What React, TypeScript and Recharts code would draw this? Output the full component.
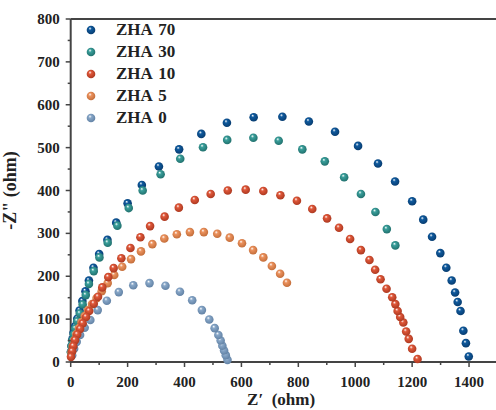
import { Legend, ReferenceLine, Scatter, ScatterChart, XAxis, YAxis } from "recharts"

// Nyquist data: Z' (real part) and -Z'' (imaginary part), in ohm
const zha70Re = [1399, 1389, 1380, 1370, 1360, 1351, 1339, 1320, 1299, 1270, 1239, 1200, 1140, 1080, 1010, 929, 837, 744, 643, 549, 459, 381, 310, 250, 200, 160, 129, 100, 80, 64, 52, 41, 31, 23, 16, 10, 6, 3, 1]
const zha70Im = [13, 44, 73, 119, 140, 162, 190, 220, 254, 292, 332, 375, 421, 463, 504, 537, 561, 572, 571, 558, 532, 496, 456, 413, 370, 325, 285, 252, 220, 190, 165, 142, 120, 101, 84, 68, 53, 38, 24]

const zha30Re = [1141, 1111, 1071, 1020, 961, 893, 814, 731, 642, 550, 465, 385, 316, 253, 204, 164, 130, 101, 81, 64, 53, 42, 32, 23, 16, 11, 6, 3, 1]
const zha30Im = [272, 310, 350, 392, 431, 468, 496, 516, 523, 518, 501, 474, 438, 400, 359, 318, 278, 244, 212, 182, 156, 134, 113, 95, 78, 64, 50, 37, 23]

const zha10Re = [1219, 1200, 1188, 1179, 1169, 1158, 1149, 1141, 1130, 1110, 1089, 1070, 1050, 1020, 982, 943, 901, 849, 795, 737, 677, 615, 552, 492, 436, 380, 330, 279, 245, 210, 178, 151, 132, 111, 96, 81, 65, 54, 42, 33, 23, 15, 9, 5, 1]
const zha10Im = [7, 31, 54, 71, 92, 105, 119, 135, 151, 171, 193, 215, 238, 261, 287, 313, 335, 357, 376, 389, 399, 402, 400, 392, 378, 360, 339, 317, 291, 266, 242, 219, 198, 174, 152, 136, 119, 105, 90, 77, 64, 51, 37, 25, 12]

const zha5Re = [760, 736, 707, 677, 641, 602, 559, 515, 468, 419, 373, 329, 287, 247, 212, 181, 153, 130, 109, 91, 75, 61, 49, 38, 29, 20, 13, 7, 3]
const zha5Im = [185, 206, 224, 244, 261, 277, 290, 299, 303, 303, 298, 288, 275, 258, 240, 222, 203, 184, 165, 149, 135, 121, 107, 93, 79, 65, 51, 37, 23]

const zha0Re = [551, 545, 539, 533, 527, 519, 506, 487, 461, 427, 384, 333, 277, 220, 169, 127, 95, 69, 49, 33, 21, 12, 5]
const zha0Im = [5, 16, 27, 38, 50, 63, 79, 99, 121, 144, 164, 178, 184, 179, 163, 143, 121, 98, 80, 63, 47, 31, 16]

const xTicks = [0, 100, 200, 300, 400, 500, 600, 700, 800, 900, 1000, 1100, 1200, 1300, 1400, 1500]
const yTicks = [0, 50, 100, 150, 200, 250, 300, 350, 400, 450, 500, 550, 600, 650, 700, 750, 800]

const AXIS = "#444"
const FONT = '"Liberation Serif", "Times New Roman", serif'

const toPoints = (re: number[], im: number[]) => re.map((x, i) => ({ x, y: im[i] }))

// legend order top→bottom; draw order is handled separately below
const series = [
  { key: "zha70", name: "ZHA 70", color: "#0f5a9e", dark: "#073a6c", data: toPoints(zha70Re, zha70Im) },
  { key: "zha30", name: "ZHA 30", color: "#3a9f9b", dark: "#1f6d6a", data: toPoints(zha30Re, zha30Im) },
  { key: "zha10", name: "ZHA 10", color: "#e0583a", dark: "#a8361e", data: toPoints(zha10Re, zha10Im) },
  { key: "zha5", name: "ZHA 5", color: "#ec935f", dark: "#c06a36", data: toPoints(zha5Re, zha5Im) },
  { key: "zha0", name: "ZHA 0", color: "#88a7c8", dark: "#5f7fa2", data: toPoints(zha0Re, zha0Im) },
]
const drawOrder = ["zha70", "zha30", "zha0", "zha5", "zha10"]

// shaded "ball" marker
function Ball({ cx, cy, id }: any) {
  if (cx == null || cy == null) return null
  return <circle cx={cx} cy={cy} r={4.3} fill={`url(#ball-${id})`} />
}

function XTick({ x, y, payload }: any) {
  const major = payload.value % 200 === 0
  return (
    <g>
      <line x1={x} x2={x} y1={y} y2={y + (major ? 5 : 3)} stroke={AXIS} strokeWidth={1.5} />
      {major && (
        <text x={x} y={y + 25} textAnchor="middle" fontFamily={FONT} fontWeight="bold" fontSize={15} fill="#222">
          {payload.value}
        </text>
      )}
    </g>
  )
}

function YTick({ x, y, payload }: any) {
  const major = payload.value % 100 === 0
  return (
    <g>
      <line x1={x} x2={x - (major ? 5 : 3)} y1={y} y2={y} stroke={AXIS} strokeWidth={1.5} />
      {major && (
        <text x={x - 11} y={y + 5} textAnchor="end" fontFamily={FONT} fontWeight="bold" fontSize={15} fill="#222">
          {payload.value}
        </text>
      )}
    </g>
  )
}

function LegendBox() {
  return (
    <div style={{ fontFamily: FONT, fontWeight: "bold", fontSize: 17, color: "#222" }}>
      {series.map(s => (
        <div key={s.key} style={{ display: "flex", alignItems: "center", height: 22 }}>
          <svg width={22} height={22}>
            <circle cx={11} cy={11} r={4.3} fill={`url(#ball-${s.key})`} />
          </svg>
          <span style={{ marginLeft: 14, wordSpacing: 2 }}>{s.name}</span>
        </div>
      ))}
    </div>
  )
}

export default function App() {
  return (
    <div style={{ position: "absolute", left: 0, top: 0, width: 496, height: 410, overflow: "hidden", background: "#fff" }}>
      <ScatterChart width={500} height={410} margin={{ top: 19, right: 2.5, bottom: 8, left: 0 }}>
        <defs>
          {series.map(s => (
            <radialGradient key={s.key} id={`ball-${s.key}`} cx="0.45" cy="0.45" r="0.6" fx="0.38" fy="0.3">
              <stop offset="0%" stopColor="#ffffff" />
              <stop offset="30%" stopColor={s.color} />
              <stop offset="100%" stopColor={s.dark} />
            </radialGradient>
          ))}
        </defs>
        <XAxis
          type="number"
          dataKey="x"
          domain={[0, 1500]}
          ticks={xTicks}
          interval={0}
          height={40}
          tickSize={0}
          tickMargin={0}
          tickLine={false}
          tick={<XTick />}
          axisLine={{ stroke: AXIS, strokeWidth: 2 }}
          label={{
            value: "Z\u2032\u00a0\u00a0(ohm)",
            position: "insideBottom",
            offset: -3,
            dx: -3,
            style: { fontFamily: FONT, fontWeight: "bold", fontSize: 17, fill: "#222" },
          }}
        />
        <YAxis
          type="number"
          dataKey="y"
          domain={[0, 800]}
          ticks={yTicks}
          interval={0}
          width={70.7}
          tickSize={0}
          tickMargin={0}
          tickLine={false}
          tick={<YTick />}
          axisLine={{ stroke: AXIS, strokeWidth: 2 }}
          label={{
            value: '-Z" (ohm)',
            angle: -90,
            position: "insideLeft",
            offset: 10,
            style: { fontFamily: FONT, fontWeight: "bold", fontSize: 18, fill: "#222", textAnchor: "middle" },
          }}
        />
        <ReferenceLine y={800} stroke={AXIS} strokeWidth={2} />
        <Legend
          layout="vertical"
          align="center"
          verticalAlign="middle"
          content={<LegendBox />}
          wrapperStyle={{ left: 80, top: 19, width: 200 }}
        />
        {drawOrder.map(k => {
          const s = series.find(d => d.key === k)!
          return (
            <Scatter
              key={s.key}
              name={s.name}
              data={s.data}
              fill={s.color}
              shape={(p: any) => <Ball {...p} id={s.key} />}
              isAnimationActive={false}
            />
          )
        })}
      </ScatterChart>
    </div>
  )
}
